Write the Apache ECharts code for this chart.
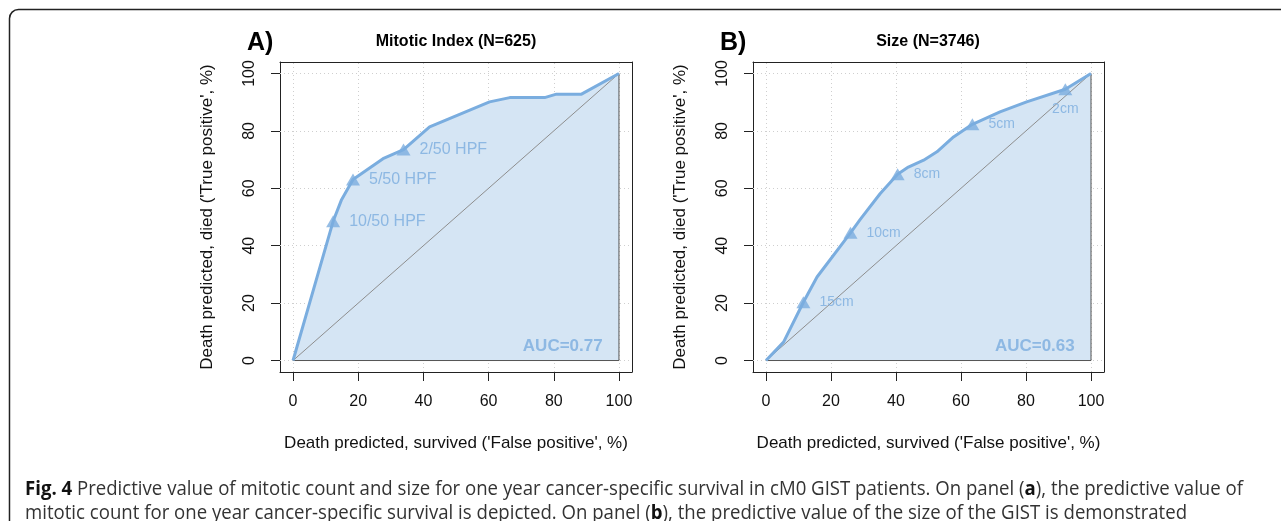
<!DOCTYPE html>
<html>
<head>
<meta charset="utf-8">
<script src="https://cdn.jsdelivr.net/npm/echarts@6/dist/echarts.min.js"></script>
<style>html,body{margin:0;padding:0;background:#fff}#c{width:1281px;height:521px}</style>
</head>
<body>
<div id="c"></div>
<script>
// ---------------- data ----------------
const tickValues = [0, 20, 40, 60, 80, 100];
const xAxisTitle = "Death predicted, survived ('False positive', %)";
const yAxisTitle = "Death predicted, died ('True positive', %)";

const panelALetter = 'A)';
const panelATitle = 'Mitotic Index (N=625)';
const rocAX = [0, 12.3, 14.8, 18.4, 27.6, 33.9, 41.9, 60.3, 66.5, 77.2, 80.8, 88.5, 100];
const rocAY = [0, 48.5, 55.8, 63.1, 70.3, 73.5, 81.4, 90.1, 91.6, 91.6, 92.8, 92.8, 100];
const markAX = [12.3, 18.4, 33.9];
const markAY = [48.5, 63.1, 73.5];
const markALabels = ['10/50 HPF', '5/50 HPF', '2/50 HPF'];
const aucA = 'AUC=0.77';

const panelBLetter = 'B)';
const panelBTitle = 'Size (N=3746)';
const rocBX = [0, 5.4, 11.5, 15.7, 26.0, 29.0, 35.1, 40.5, 43.8, 48.5, 52.6, 57.7, 63.5, 72.0, 80.2, 92.1, 100];
const rocBY = [0, 6.4, 20.3, 29.1, 44.5, 49.2, 58.1, 64.9, 67.4, 69.8, 72.7, 77.9, 82.3, 86.6, 90.1, 94.5, 100];
const markBX = [11.5, 26.0, 40.5, 63.5, 92.1];
const markBY = [20.3, 44.5, 64.9, 82.3, 94.5];
const markBLabels = ['15cm', '10cm', '8cm', '5cm', '2cm'];
const aucB = 'AUC=0.63';

const captionLine1 = '{b|Fig. 4} Predictive value of mitotic count and size for one year cancer-specific survival in cM0 GIST patients. On panel ({b|a}), the predictive value of';
const captionLine2 = 'mitotic count for one year cancer-specific survival is depicted. On panel ({b|b}), the predictive value of the size of the GIST is demonstrated';

// ---------------- style / layout ----------------
const FONT = "'Liberation Sans', Arial, Helvetica, sans-serif";
const CAPFONT = "'Open Sans', 'Noto Sans', sans-serif";
const CAPSIZE = 20;
const CAP_TARGET_WIDTH = 1218;
const BLUE = '#7aaddf';
const FILL = '#d5e5f4';
const AXC = '#222';
const aucPos = [95, 5];

const grids = [
  { left: 280, top: 62, width: 352, height: 310 },
  { left: 753, top: 62, width: 351, height: 310 }
];

function zip(xs, ys) { return xs.map((x, i) => [x, ys[i]]); }

const xAxes = [], yAxes = [];
grids.forEach((g, gi) => {
  xAxes.push({
    gridIndex: gi, type: 'value', min: -4, max: 104, position: 'bottom',
    axisLine: { show: true, onZero: false, lineStyle: { color: AXC, width: 1 } },
    axisTick: { show: true, length: 9, customValues: tickValues, lineStyle: { color: AXC, width: 1 } },
    axisLabel: { customValues: tickValues, margin: 22, fontSize: 16, color: '#111', fontFamily: FONT },
    splitLine: { show: false },
    name: xAxisTitle, nameLocation: 'middle', nameGap: 63,
    nameTextStyle: { fontSize: 17, color: '#111', fontFamily: FONT }
  });
  xAxes.push({
    gridIndex: gi, type: 'value', min: -4, max: 104, position: 'top',
    axisLine: { show: true, onZero: false, lineStyle: { color: AXC, width: 1 } },
    axisTick: { show: false }, axisLabel: { show: false }, splitLine: { show: false }
  });
  yAxes.push({
    gridIndex: gi, type: 'value', min: -4, max: 104, position: 'left',
    axisLine: { show: true, onZero: false, lineStyle: { color: AXC, width: 1 } },
    axisTick: { show: true, length: 9, customValues: tickValues, lineStyle: { color: AXC, width: 1 } },
    axisLabel: { customValues: tickValues, margin: 22, rotate: 90, fontSize: 16, color: '#111', fontFamily: FONT },
    splitLine: { show: false },
    name: yAxisTitle, nameLocation: 'middle', nameGap: 64, nameRotate: 90,
    nameTextStyle: { fontSize: 17, color: '#111', fontFamily: FONT }
  });
  yAxes.push({
    gridIndex: gi, type: 'value', min: -4, max: 104, position: 'right',
    axisLine: { show: true, onZero: false, lineStyle: { color: AXC, width: 1 } },
    axisTick: { show: false }, axisLabel: { show: false }, splitLine: { show: false }
  });
});

function panelSeries(gi, rx, ry, mx, my, mlabels, auc, labelSize, belowIdx) {
  const ax = gi * 2;
  const base = { xAxisIndex: ax, yAxisIndex: ax, silent: true, animation: false };
  const gridData = tickValues.map(v => ({ xAxis: v })).concat(tickValues.map(v => ({ yAxis: v })));
  return [
    Object.assign({}, base, {
      type: 'line', data: [], z: 1,
      markLine: {
        silent: true, z: 1, symbol: ['none', 'none'], animation: false,
        label: { show: false },
        lineStyle: { color: '#cfcfcf', type: [1, 3], width: 1 },
        data: gridData
      }
    }),
    Object.assign({}, base, {
      type: 'line', data: zip(rx, ry), symbol: 'none', z: 2,
      lineStyle: { width: 0 }, areaStyle: { color: FILL, opacity: 1 }
    }),
    Object.assign({}, base, {
      type: 'line', data: [[0, 0], [100, 0], [100, 100]], symbol: 'none', z: 3,
      lineStyle: { color: '#555', width: 1 }
    }),
    Object.assign({}, base, {
      type: 'line', data: [[0, 0], [100, 100]], symbol: 'none', z: 3,
      lineStyle: { color: '#8e8e8e', width: 1 }
    }),
    Object.assign({}, base, {
      type: 'line', data: zip(rx, ry), symbol: 'none', z: 4,
      lineStyle: { color: BLUE, width: 3 }
    }),
    Object.assign({}, base, {
      type: 'scatter', z: 5, symbol: 'triangle', symbolSize: [14, 12],
      itemStyle: { color: BLUE },
      data: mx.map((x, i) => {
        const d = { value: [x, my[i]], name: mlabels[i] };
        if (i === belowIdx) d.label = { position: 'bottom', distance: 7 };
        return d;
      }),
      label: {
        show: true, position: 'right', distance: 9, formatter: p => p.name,
        color: BLUE, fontSize: labelSize, fontFamily: FONT
      }
    }),
    Object.assign({}, base, {
      type: 'scatter', z: 6, symbolSize: 0,
      data: [{ value: aucPos, name: auc }],
      label: {
        show: true, position: 'left', distance: 0, formatter: p => p.name,
        color: BLUE, fontSize: 17, fontWeight: 'bold', fontFamily: FONT
      }
    })
  ];
}

const series = [].concat(
  panelSeries(0, rocAX, rocAY, markAX, markAY, markALabels, aucA, 16, -1),
  panelSeries(1, rocBX, rocBY, markBX, markBY, markBLabels, aucB, 14, 4)
);

function centerText(x, y, text, size, weight) {
  return {
    type: 'text', x: x, y: y, silent: true,
    style: { text: text, fill: '#000', font: weight + ' ' + size + 'px ' + FONT, align: 'center', verticalAlign: 'middle' }
  };
}
function leftText(x, y, text, size, weight) {
  return {
    type: 'text', x: x, y: y, silent: true,
    style: { text: text, fill: '#000', font: weight + ' ' + size + 'px ' + FONT, align: 'left', verticalAlign: 'middle' }
  };
}

// measure rich caption width to compress it horizontally like the condensed original font
function measureRich(text) {
  const ctx = document.createElement('canvas').getContext('2d');
  let w = 0;
  text.split(/(\{b\|[^}]*\})/).forEach(seg => {
    if (!seg) return;
    const m = seg.match(/^\{b\|([^}]*)\}$/);
    ctx.font = (m ? 'bold ' : 'normal ') + CAPSIZE + 'px ' + CAPFONT;
    w += ctx.measureText(m ? m[1] : seg).width;
  });
  return w;
}
const capScale = CAP_TARGET_WIDTH / measureRich(captionLine1);

function caption(y, text) {
  return {
    type: 'text', x: 25, y: y, silent: true, scaleX: capScale,
    style: {
      text: text, fill: '#333', font: 'normal ' + CAPSIZE + 'px ' + CAPFONT, align: 'left', verticalAlign: 'middle',
      rich: { b: { fontWeight: 'bold', fill: '#111', fontFamily: CAPFONT, fontSize: CAPSIZE } }
    }
  };
}

const graphic = [
  { type: 'rect', silent: true, shape: { x: 9.5, y: 9.5, width: 1500, height: 700, r: 9 },
    style: { fill: null, stroke: '#222', lineWidth: 1.5 } },
  leftText(247, 43, panelALetter, 25, 'bold'),
  centerText(456, 42, panelATitle, 16, 'bold'),
  leftText(720, 43, panelBLetter, 25, 'bold'),
  centerText(928, 42, panelBTitle, 16, 'bold'),
  caption(489, captionLine1),
  caption(513, captionLine2)
];

const chart = echarts.init(document.getElementById('c'), null, { renderer: 'canvas' });
chart.setOption({
  animation: false,
  backgroundColor: '#fff',
  grid: grids,
  xAxis: xAxes,
  yAxis: yAxes,
  series: series,
  graphic: graphic
});
</script>
</body>
</html>
